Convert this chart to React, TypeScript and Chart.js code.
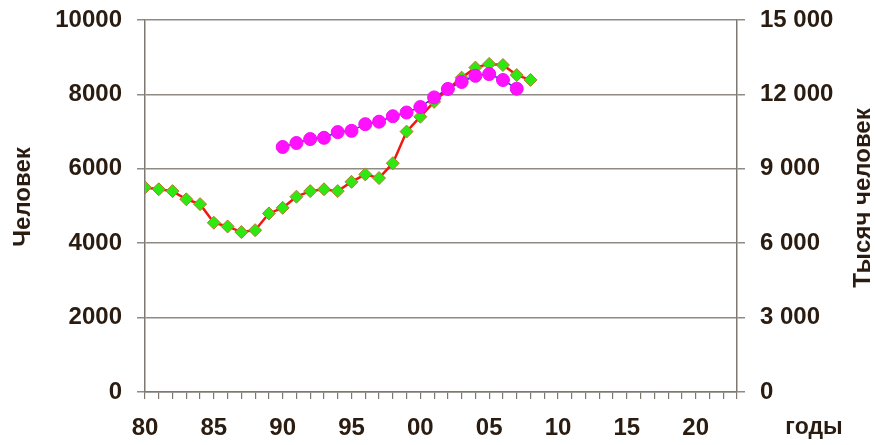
import React, { useEffect, useRef } from "react";
import { Chart, registerables } from "chart.js";

Chart.register(...registerables);

const yearsGreen = [1980,1981,1982,1983,1984,1985,1986,1987,1988,1989,1990,1991,1992,1993,1994,1995,1996,1997,1998,1999,2000,2001,2002,2003,2004,2005,2006,2007,2008];
const valuesGreen = [5500,5450,5400,5180,5050,4550,4450,4300,4350,4800,4950,5250,5400,5450,5400,5650,5850,5750,6150,7000,7400,7800,8150,8450,8720,8820,8790,8520,8390];

const yearsMagenta = [1990,1991,1992,1993,1994,1995,1996,1997,1998,1999,2000,2001,2002,2003,2004,2005,2006,2007];
const valuesMagenta = [9880,10040,10200,10250,10480,10530,10800,10900,11120,11270,11490,11880,12220,12500,12750,12820,12580,12230];

const leftTitle = "Человек";
const rightTitle = "Тысяч человек";
const xTitle = "годы";

const TEXT = "#2a1c10";
const GRID = "#8f8a84";
const AXIS = "#7d7872";
const FONT = '"Liberation Sans", Arial, sans-serif';

function fmtSpace(v: number): string {
  return String(v).replace(/\B(?=(\d{3})+(?!\d))/g, " ");
}

const titlesPlugin = {
  id: "customTitles",
  afterDraw(chart: any) {
    const { ctx, chartArea } = chart;
    const midY = (chartArea.top + chartArea.bottom) / 2;
    ctx.save();
    ctx.fillStyle = TEXT;
    ctx.font = `bold 24px ${FONT}`;
    ctx.textAlign = "center";
    ctx.textBaseline = "middle";
    ctx.save();
    ctx.translate(chartArea.left - 122, midY - 9);
    ctx.rotate(-Math.PI / 2);
    ctx.fillText(leftTitle, 0, 0);
    ctx.restore();
    ctx.save();
    ctx.translate(chartArea.right + 126, midY - 8);
    ctx.rotate(-Math.PI / 2);
    ctx.fillText(rightTitle, 0, 0);
    ctx.restore();
    ctx.font = `bold 23px ${FONT}`;
    ctx.textBaseline = "alphabetic";
    ctx.fillText(xTitle, chartArea.right + 77, chartArea.bottom + 42);
    ctx.restore();
  },
};

export default function App() {
  const ref = useRef<HTMLCanvasElement>(null);
  useEffect(() => {
    if (!ref.current) return;
    const chart = new Chart(ref.current, {
      type: "line",
      data: {
        datasets: [
          {
            label: "green",
            data: yearsGreen.map((x, i) => ({ x, y: valuesGreen[i] })),
            yAxisID: "y",
            borderColor: "#ee1a10",
            borderWidth: 2.5,
            pointStyle: "rectRot",
            pointRadius: 6.5,
            pointBackgroundColor: "#2ee812",
            pointBorderColor: "#b8782a",
            pointBorderWidth: 1,
            tension: 0,
            order: 1,
          },
          {
            label: "magenta",
            data: yearsMagenta.map((x, i) => ({ x, y: valuesMagenta[i] })),
            yAxisID: "y2",
            borderColor: "#3a30d8",
            borderWidth: 1.5,
            pointStyle: "circle",
            pointRadius: 6.5,
            pointBackgroundColor: "#ff10ff",
            pointBorderColor: "#f010f0",
            pointBorderWidth: 1,
            tension: 0,
            order: 0,
          },
        ],
      },
      options: {
        responsive: false,
        animation: false,
        layout: { padding: { top: 20, left: 0, right: 0, bottom: 0 } },
        plugins: { legend: { display: false }, tooltip: { enabled: false } },
        scales: {
          x: {
            type: "linear",
            position: "bottom",
            min: 1980,
            max: 2023,
            afterFit: (s: any) => { s.height = 53; s.paddingLeft = 0; s.paddingRight = 0; },
            ticks: {
              stepSize: 1,
              autoSkip: false,
              maxRotation: 0,
              minRotation: 0,
              padding: 15,
              color: TEXT,
              font: { family: FONT, size: 24, weight: "bold" },
              callback: (v: any) => {
                const n = Number(v);
                return n % 5 === 0 && n <= 2020 ? String(n % 100).padStart(2, "0") : "";
              },
            },
            grid: { drawOnChartArea: false, drawTicks: true, tickLength: 7, color: AXIS, lineWidth: 1.2 },
            border: { display: true, color: AXIS, width: 1.5 },
          },
          y: {
            position: "left",
            min: 0,
            max: 10000,
            afterFit: (s: any) => { s.width = 145; s.paddingTop = 0; s.paddingBottom = 0; },
            ticks: {
              stepSize: 2000,
              padding: 15,
              color: TEXT,
              font: { family: FONT, size: 24, weight: "bold" },
              callback: (v: any) => String(v),
            },
            grid: { drawOnChartArea: true, drawTicks: true, tickLength: 8, color: GRID, lineWidth: 1.5 },
            border: { display: true, color: AXIS, width: 1.5 },
          },
          y2: {
            position: "right",
            min: 0,
            max: 15000,
            afterFit: (s: any) => { s.width = 138; s.paddingTop = 0; s.paddingBottom = 0; },
            ticks: {
              stepSize: 3000,
              padding: 15,
              color: TEXT,
              font: { family: FONT, size: 24, weight: "bold" },
              callback: (v: any) => fmtSpace(Number(v)),
            },
            grid: { drawOnChartArea: false, drawTicks: true, tickLength: 8, color: GRID, lineWidth: 1.5 },
            border: { display: true, color: AXIS, width: 1.5 },
          },
        },
      },
      plugins: [titlesPlugin],
    });
    return () => chart.destroy();
  }, []);
  return (
    <div style={{ position: "fixed", left: 0, top: 0, width: 875, height: 445, background: "#fff" }}>
      <canvas ref={ref} width={875} height={445} />
    </div>
  );
}
